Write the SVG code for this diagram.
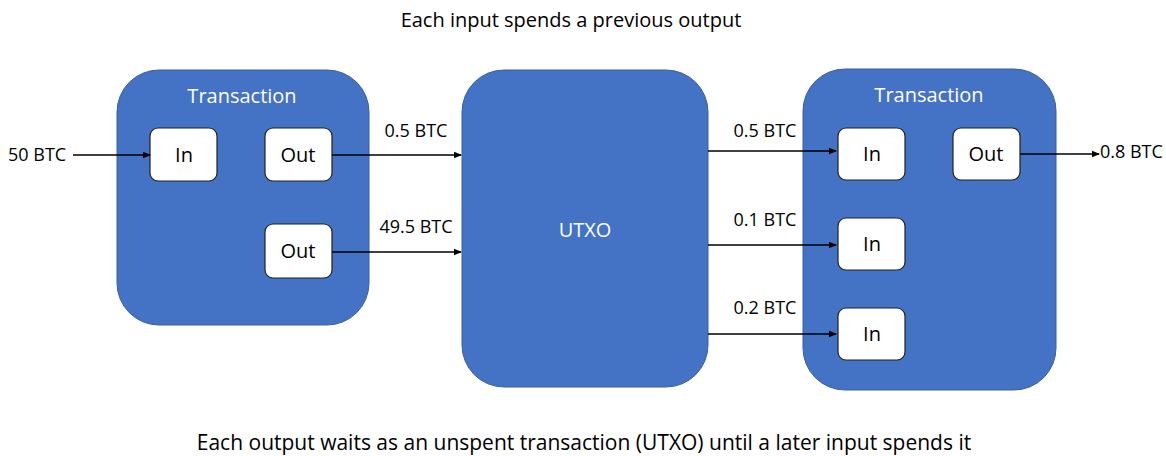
<svg xmlns="http://www.w3.org/2000/svg" width="1166" height="456" viewBox="0 0 1166 456">
<defs>
<marker id="ah" markerWidth="8" markerHeight="8" refX="7" refY="4" orient="auto" markerUnits="userSpaceOnUse">
<path d="M0,0.8 L8,4 L0,7.2 Z" fill="#000"/>
</marker>
</defs>
<style>
.big{fill:#4472C4;stroke:#3A5F9F;stroke-width:1}
.box{fill:#fff;stroke:#222;stroke-width:1.2}
.t{font-family:"Open Sans","Noto Sans","DejaVu Sans",sans-serif;font-size:18px;fill:#000}
.h{font-family:"Open Sans","Noto Sans","DejaVu Sans",sans-serif;fill:#000;text-anchor:middle}
.w{font-family:"Open Sans","Noto Sans","DejaVu Sans",sans-serif;font-size:20px;fill:#fff;text-anchor:middle}
.bl{font-family:"Open Sans","Noto Sans","DejaVu Sans",sans-serif;font-size:20px;fill:#000;text-anchor:middle}
.c{stroke:#000;stroke-width:1.6;fill:none;marker-end:url(#ah)}
</style>
<rect width="1166" height="456" fill="#fff"/>
<text class="h" x="571" y="27" font-size="20">Each input spends a previous output</text>
<text class="h" x="584" y="450" font-size="21">Each output waits as an unspent transaction (UTXO) until a later input spends it</text>

<g id="tx1">
<rect class="big" x="117" y="70" width="252" height="255" rx="42"/>
<text class="w" x="242" y="103">Transaction</text>
</g>
<g id="tx1-in"><rect class="box" x="150" y="128" width="67" height="53" rx="8"/><text class="bl" x="184" y="162">In</text></g>
<g id="tx1-out1"><rect class="box" x="265" y="128" width="67" height="53" rx="8"/><text class="bl" x="298" y="162">Out</text></g>
<g id="tx1-out2"><rect class="box" x="265" y="224" width="67" height="54" rx="8"/><text class="bl" x="298" y="258">Out</text></g>

<g id="utxo">
<rect class="big" x="462" y="70" width="246" height="317" rx="42"/>
<text class="w" x="585" y="237">UTXO</text>
</g>

<g id="tx2">
<rect class="big" x="803" y="69" width="253" height="321" rx="42"/>
<text class="w" x="929" y="102">Transaction</text>
</g>
<g id="tx2-in1"><rect class="box" x="838" y="128" width="67" height="52" rx="8"/><text class="bl" x="872" y="161">In</text></g>
<g id="tx2-in2"><rect class="box" x="838" y="218" width="67" height="52" rx="8"/><text class="bl" x="872" y="251">In</text></g>
<g id="tx2-in3"><rect class="box" x="838" y="308" width="67" height="52" rx="8"/><text class="bl" x="872" y="341">In</text></g>
<g id="tx2-out"><rect class="box" x="953" y="128" width="67" height="52" rx="8"/><text class="bl" x="986" y="161">Out</text></g>

<g id="connectors">
<line class="c" x1="73" y1="155" x2="150" y2="155"/>
<line class="c" x1="332" y1="155" x2="461" y2="155"/>
<line class="c" x1="332" y1="252" x2="461" y2="252"/>
<line class="c" x1="708" y1="151" x2="836" y2="151"/>
<line class="c" x1="708" y1="245" x2="836" y2="245"/>
<line class="c" x1="708" y1="334" x2="836" y2="334"/>
<line class="c" x1="1020" y1="154" x2="1099" y2="154"/>
<text class="t" x="8" y="161">50 BTC</text>
<text class="t" x="416" y="137" text-anchor="middle">0.5 BTC</text>
<text class="t" x="416" y="233" text-anchor="middle">49.5 BTC</text>
<text class="t" x="765" y="137" text-anchor="middle">0.5 BTC</text>
<text class="t" x="765" y="226" text-anchor="middle">0.1 BTC</text>
<text class="t" x="765" y="314" text-anchor="middle">0.2 BTC</text>
<text class="t" x="1100" y="158">0.8 BTC</text>
</g>
</svg>
